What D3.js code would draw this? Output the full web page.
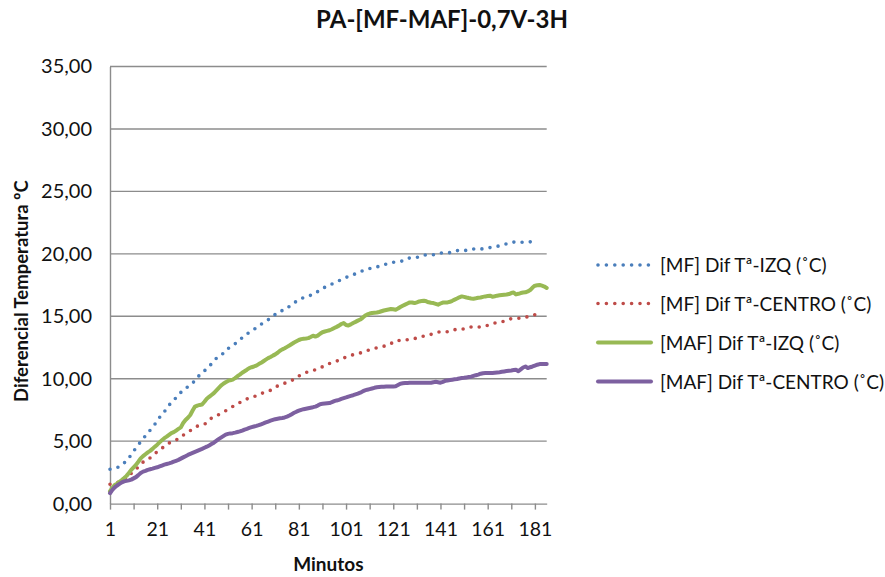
<!DOCTYPE html>
<html>
<head>
<meta charset="utf-8">
<script src="https://cdn.jsdelivr.net/npm/d3@7/dist/d3.min.js"></script>
<style>
  html, body { margin: 0; padding: 0; background: #fff; }
  svg { display: block; font-family: Lato, "Open Sans", sans-serif; }
</style>
</head>
<body>
<svg id="chart" width="885" height="577"></svg>
<script>
// Minutes on the category axis
const minutes = d3.range(1, 187);
const xTickLabels = [1, 21, 41, 61, 81, 101, 121, 141, 161, 181];
const yTicks = [0, 5, 10, 15, 20, 25, 30, 35];

const titleText = "PA-[MF-MAF]-0,7V-3H";
const yTitle = "Diferencial Temperatura ºC";
const xTitle = "Minutos";

const seriesNames = [
  "[MF] Dif Tª-IZQ (˚C)",
  "[MF] Dif Tª-CENTRO  (˚C)",
  "[MAF] Dif Tª-IZQ (˚C)",
  "[MAF] Dif Tª-CENTRO  (˚C)"
];

// [MF] Dif Tª-IZQ
const mfIzq = [
  2.75, 2.78, 2.81, 2.88, 2.96, 3.08, 3.25, 3.45, 3.66, 3.92,
  4.2, 4.45, 4.7, 4.96, 5.2, 5.42, 5.65, 5.88, 6.12, 6.35,
  6.62, 6.9, 7.18, 7.35, 7.6, 7.88, 8.1, 8.3, 8.48, 8.65,
  8.9, 9.1, 9.22, 9.35, 9.5, 9.65, 9.85, 10.1, 10.3, 10.48,
  10.63, 10.8, 10.98, 11.2, 11.45, 11.62, 11.72, 11.84, 12.05, 12.3,
  12.42, 12.52, 12.66, 12.8, 12.95, 13.1, 13.28, 13.45, 13.58, 13.7,
  13.84, 13.95, 14.08, 14.2, 14.35, 14.5, 14.62, 14.72, 14.85, 15.0,
  15.15, 15.32, 15.4, 15.46, 15.5, 15.62, 15.8, 15.95, 16.08, 16.2,
  16.33, 16.4, 16.5, 16.58, 16.62, 16.68, 16.74, 16.82, 16.98, 17.13,
  17.22, 17.32, 17.4, 17.48, 17.58, 17.67, 17.75, 17.84, 17.93, 18.0,
  18.1, 18.2, 18.26, 18.33, 18.4, 18.46, 18.55, 18.64, 18.7, 18.76,
  18.82, 18.85, 18.9, 18.95, 19.0, 19.06, 19.12, 19.18, 19.22, 19.27,
  19.32, 19.35, 19.38, 19.4, 19.43, 19.5, 19.62, 19.67, 19.68, 19.7,
  19.72, 19.76, 19.84, 19.91, 19.91, 19.91, 19.91, 19.93, 19.98, 20.04,
  20.07, 20.07, 20.07, 20.07, 20.1, 20.16, 20.22, 20.26, 20.26, 20.26,
  20.26, 20.28, 20.33, 20.38, 20.39, 20.39, 20.39, 20.39, 20.4, 20.44,
  20.48, 20.5, 20.53, 20.57, 20.6, 20.64, 20.7, 20.74, 20.8, 20.86,
  20.92, 20.94, 20.95, 20.95, 20.94, 20.92, 20.92, 20.94, 20.96, 20.98
];

// [MF] Dif Tª-CENTRO
const mfCentro = [
  1.55, 1.58, 1.62, 1.68, 1.74, 1.82, 1.9, 1.98, 2.2, 2.42,
  2.6, 2.78, 2.92, 3.1, 3.32, 3.48, 3.58, 3.66, 3.82, 3.98,
  4.16, 4.3, 4.44, 4.56, 4.7, 4.84, 4.96, 5.04, 5.1, 5.18,
  5.32, 5.48, 5.6, 5.72, 5.84, 5.96, 6.08, 6.2, 6.28, 6.33,
  6.37, 6.45, 6.65, 6.85, 6.96, 7.04, 7.12, 7.22, 7.33, 7.43,
  7.53, 7.65, 7.77, 7.88, 7.99, 8.09, 8.2, 8.3, 8.38, 8.44,
  8.5, 8.57, 8.63, 8.7, 8.8, 8.88, 8.94, 9.0, 9.07, 9.18,
  9.3, 9.42, 9.5, 9.58, 9.64, 9.7, 9.76, 9.85, 9.98, 10.12,
  10.22, 10.33, 10.44, 10.5, 10.55, 10.6, 10.65, 10.72, 10.8, 10.86,
  10.96, 11.08, 11.17, 11.22, 11.28, 11.33, 11.4, 11.5, 11.6, 11.66,
  11.73, 11.8, 11.86, 11.92, 11.97, 12.0, 12.06, 12.13, 12.2, 12.25,
  12.32, 12.38, 12.42, 12.47, 12.52, 12.56, 12.6, 12.65, 12.7, 12.8,
  12.95, 13.05, 13.06, 13.06, 13.06, 13.08, 13.13, 13.18, 13.2, 13.22,
  13.25, 13.3, 13.36, 13.42, 13.46, 13.5, 13.55, 13.6, 13.66, 13.72,
  13.76, 13.76, 13.76, 13.76, 13.78, 13.85, 13.92, 13.98, 13.98, 13.98,
  13.98, 14.02, 14.08, 14.14, 14.17, 14.17, 14.15, 14.14, 14.16, 14.22,
  14.27, 14.34, 14.4, 14.46, 14.5, 14.52, 14.54, 14.62, 14.7, 14.78,
  14.8, 14.82, 14.83, 14.84, 14.85, 14.86, 14.9, 14.98, 15.06, 15.1,
  15.12, 15.14, 15.15
];

// [MAF] Dif Tª-IZQ
const mafIzq = [
  1.0, 1.25, 1.49, 1.6, 1.75, 1.89, 2.05, 2.22, 2.45, 2.7,
  2.9, 3.1, 3.35, 3.62, 3.8, 3.95, 4.1, 4.22, 4.38, 4.56,
  4.72, 4.9, 5.08, 5.24, 5.36, 5.5, 5.64, 5.72, 5.85, 5.98,
  6.1, 6.45, 6.7, 6.88, 7.1, 7.45, 7.77, 7.85, 7.9, 7.93,
  8.15, 8.39, 8.55, 8.7, 8.85, 9.05, 9.25, 9.45, 9.6, 9.72,
  9.82, 9.88, 9.93, 10.05, 10.2, 10.33, 10.48, 10.6, 10.72, 10.85,
  10.92, 10.98, 11.05, 11.17, 11.27, 11.4, 11.53, 11.65, 11.74, 11.85,
  11.95, 12.08, 12.24, 12.35, 12.44, 12.55, 12.66, 12.78, 12.9, 13.0,
  13.1, 13.17, 13.2, 13.22, 13.25, 13.34, 13.44, 13.38, 13.45, 13.6,
  13.72, 13.78, 13.83, 13.88, 13.96, 14.06, 14.15, 14.25, 14.38, 14.46,
  14.3, 14.26, 14.35, 14.46, 14.55, 14.65, 14.74, 14.88, 15.04, 15.15,
  15.22, 15.26, 15.28, 15.3, 15.34, 15.4, 15.46, 15.5, 15.54, 15.58,
  15.56, 15.52, 15.62, 15.74, 15.84, 15.93, 16.02, 16.11, 16.1, 16.06,
  16.12, 16.19, 16.22, 16.25, 16.2, 16.12, 16.08, 16.06, 16.0, 15.93,
  16.02, 16.1, 16.11, 16.11, 16.16, 16.24, 16.33, 16.42, 16.52, 16.59,
  16.55, 16.5, 16.46, 16.43, 16.41, 16.44, 16.48, 16.5, 16.55, 16.59,
  16.62, 16.65, 16.56, 16.6, 16.65, 16.68, 16.7, 16.72, 16.74, 16.78,
  16.86, 16.91, 16.75, 16.8, 16.86, 16.9, 16.92, 16.99, 17.1, 17.3,
  17.45, 17.48, 17.5, 17.45, 17.38, 17.27
];

// [MAF] Dif Tª-CENTRO
const mafCentro = [
  0.83, 1.1, 1.3, 1.45, 1.58, 1.7, 1.78, 1.82, 1.86, 1.92,
  2.02, 2.12, 2.28, 2.45, 2.56, 2.62, 2.7, 2.75, 2.8, 2.86,
  2.91, 2.98, 3.05, 3.12, 3.17, 3.22, 3.28, 3.36, 3.43, 3.5,
  3.6, 3.7, 3.8, 3.9, 3.98, 4.06, 4.14, 4.22, 4.3, 4.38,
  4.47, 4.56, 4.66, 4.77, 4.88, 5.02, 5.16, 5.28, 5.4, 5.52,
  5.58, 5.62, 5.64, 5.68, 5.73, 5.78, 5.85, 5.93, 5.99, 6.06,
  6.12, 6.17, 6.22, 6.28, 6.35, 6.42, 6.5, 6.57, 6.64, 6.7,
  6.76, 6.8, 6.83, 6.86, 6.9, 6.96, 7.05, 7.16, 7.27, 7.36,
  7.44, 7.51, 7.56, 7.6, 7.64, 7.68, 7.72, 7.77, 7.85, 7.96,
  7.99, 8.01, 8.03, 8.05, 8.12, 8.2, 8.26, 8.31, 8.38, 8.44,
  8.5, 8.57, 8.63, 8.68, 8.74, 8.8, 8.88, 8.98, 9.06, 9.12,
  9.17, 9.22, 9.27, 9.31, 9.33, 9.35, 9.36, 9.37, 9.37, 9.37,
  9.37, 9.4, 9.5, 9.6, 9.63, 9.65, 9.66, 9.67, 9.67, 9.67,
  9.67, 9.67, 9.67, 9.67, 9.67, 9.67, 9.68, 9.72, 9.75, 9.72,
  9.68, 9.75, 9.83, 9.86, 9.89, 9.92, 9.95, 9.98, 10.02, 10.05,
  10.07, 10.1, 10.13, 10.16, 10.22, 10.28, 10.33, 10.4, 10.44, 10.45,
  10.45, 10.45, 10.46, 10.48, 10.5, 10.52, 10.55, 10.58, 10.61, 10.64,
  10.66, 10.69, 10.71, 10.6, 10.75, 10.9, 10.98, 10.85, 10.92, 10.98,
  11.05, 11.12, 11.17, 11.17, 11.17, 11.17
];

const seriesValues = [mfIzq, mfCentro, mafIzq, mafCentro];
const seriesColors = ["#4a7ebb", "#be4b48", "#98b954", "#7d60a0"];
const seriesDotted = [true, true, false, false];

const svg = d3.select("#chart");
const W = 885, H = 577;
svg.append("rect").attr("width", W).attr("height", H).attr("fill", "#fff");

const plot = { left: 110, right: 546.7, top: 66.5, bottom: 503.6 };

const x = d3.scaleLinear()
  .domain([minutes[0], minutes[minutes.length - 1]])
  .range([plot.left, plot.right]);
const y = d3.scaleLinear()
  .domain([0, 35])
  .range([plot.bottom, plot.top]);

const gridColor = "#8c8c8c";
const fmt = v => d3.format(".2f")(v).replace(".", ",");

// Horizontal gridlines
svg.append("g")
  .selectAll("line")
  .data(yTicks.filter(t => t > 0))
  .join("line")
  .attr("x1", plot.left).attr("x2", plot.right)
  .attr("y1", d => y(d)).attr("y2", d => y(d))
  .attr("stroke", gridColor).attr("stroke-width", 1.4);

// Y axis
const yAxis = svg.append("g")
  .attr("transform", `translate(${plot.left},0)`)
  .call(d3.axisLeft(y).tickValues(yTicks).tickFormat(fmt).tickSize(0).tickPadding(18));
yAxis.select(".domain").attr("stroke", gridColor).attr("stroke-width", 1.4);
yAxis.selectAll("text")
  .attr("font-size", 20).attr("fill", "#111")
  .attr("font-family", "Lato, sans-serif");

// X axis: tick marks every 10 minutes, labels every 20
const xTickMarks = minutes.filter(m => (m - 1) % 10 === 0);
const xAxis = svg.append("g")
  .attr("transform", `translate(0,${plot.bottom})`)
  .call(d3.axisBottom(x).tickValues(xTickMarks)
    .tickFormat(d => xTickLabels.includes(d) ? String(d) : "")
    .tickSize(6).tickSizeOuter(0).tickPadding(13));
xAxis.select(".domain").attr("stroke", gridColor).attr("stroke-width", 1.4);
xAxis.selectAll(".tick line").attr("stroke", gridColor).attr("stroke-width", 1.4);
xAxis.selectAll("text")
  .attr("font-size", 19.5).attr("fill", "#111")
  .attr("font-family", "Lato, sans-serif");

// Series lines
const line = d3.line()
  .x((d, i) => x(minutes[i]))
  .y(d => y(d));

seriesValues.forEach((vals, k) => {
  const p = svg.append("path")
    .datum(vals)
    .attr("d", line)
    .attr("fill", "none")
    .attr("stroke", seriesColors[k])
    .attr("stroke-linejoin", "round");
  if (seriesDotted[k]) {
    p.attr("stroke-width", 3.6)
      .attr("stroke-linecap", "round")
      .attr("stroke-dasharray", "0 8.2");
  } else {
    p.attr("stroke-width", 4)
      .attr("stroke-linecap", "round");
  }
});

// Title
svg.append("text")
  .attr("x", 442).attr("y", 28)
  .attr("text-anchor", "middle")
  .attr("font-size", 24).attr("font-weight", "bold")
  .attr("fill", "#111")
  .text(titleText);

// Axis titles
svg.append("text")
  .attr("transform", `translate(28,${(plot.top + plot.bottom) / 2 + 6}) rotate(-90)`)
  .attr("text-anchor", "middle")
  .attr("font-size", 18.5).attr("font-weight", "bold")
  .attr("fill", "#111")
  .text(yTitle);

svg.append("text")
  .attr("x", (plot.left + plot.right) / 2).attr("y", 571)
  .attr("text-anchor", "middle")
  .attr("font-size", 19).attr("font-weight", "bold")
  .attr("fill", "#111")
  .text(xTitle);

// Legend
const legendRows = [265, 303.5, 342.5, 381.5];
const legend = svg.append("g");
seriesNames.forEach((name, k) => {
  const ly = legendRows[k];
  const l = legend.append("line")
    .attr("x1", 598).attr("x2", 651)
    .attr("y1", ly).attr("y2", ly)
    .attr("stroke", seriesColors[k])
    .attr("stroke-linecap", "round");
  if (seriesDotted[k]) {
    l.attr("stroke-width", 3.6).attr("stroke-dasharray", "0 8.4");
  } else {
    l.attr("stroke-width", 4);
  }
  legend.append("text")
    .attr("x", 660).attr("y", ly + 7)
    .attr("font-size", 19)
    .attr("fill", "#111")
    .text(name);
});
</script>
</body>
</html>
